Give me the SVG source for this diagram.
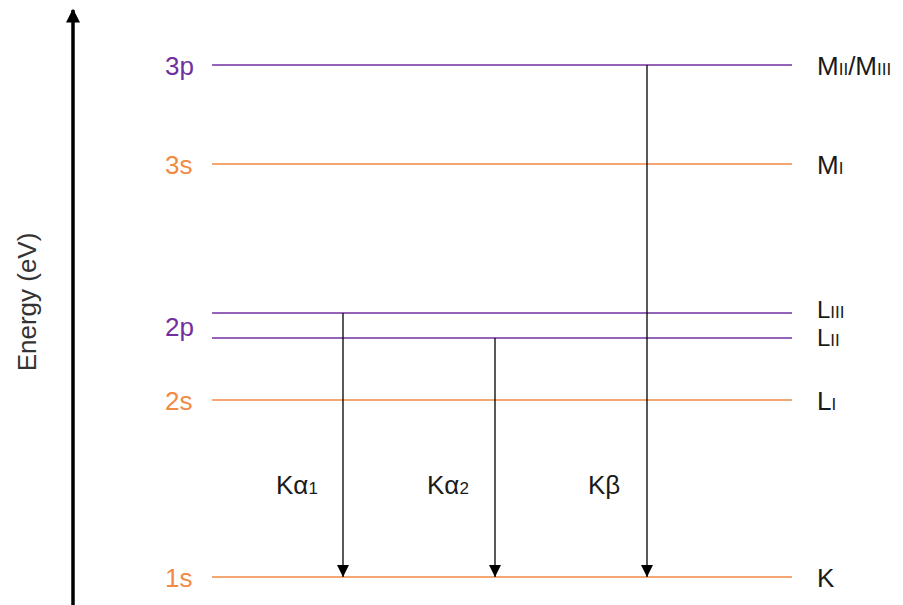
<svg xmlns="http://www.w3.org/2000/svg" width="903" height="605" viewBox="0 0 903 605">
<style>
text{font-family:"Liberation Sans",Arial,sans-serif;font-size:26px}
.p{fill:#7030A0}.o{fill:#F08A45}
.lp{stroke:#7030A0;stroke-width:1.5}.lo{stroke:#F08A45;stroke-width:1.5}
.r{fill:#1a1a1a}
.s{font-size:17px}
.sm{font-size:24px}
.ar{stroke:#000;stroke-width:1.3;fill:none}
</style>
<defs>
<marker id="ah" viewBox="0 0 10 10" refX="10" refY="5" markerWidth="12" markerHeight="12" markerUnits="userSpaceOnUse" orient="auto"><path d="M0,0L10,5L0,10z" fill="#000"/></marker>
<marker id="ah2" viewBox="0 0 10 10" refX="9" refY="5" markerWidth="4" markerHeight="4" orient="auto"><path d="M0,0L10,5L0,10z" fill="#000"/></marker>
</defs>
<g id="axis">
<line x1="73" y1="605" x2="73" y2="10" stroke="#000" stroke-width="3.5" marker-end="url(#ah2)"/>
<text transform="translate(36,302) rotate(-90)" text-anchor="middle" fill="#333" font-size="30">Energy (eV)</text>
</g>
<g id="level-3p"><line class="lp" x1="212" y1="65" x2="792" y2="65"/><text class="p" x="165" y="75">3p</text><text class="r" x="817" y="75">M<tspan class="s">II</tspan>/M<tspan class="s">III</tspan></text></g>
<g id="level-3s"><line class="lo" x1="212" y1="164" x2="792" y2="164"/><text class="o" x="165" y="174">3s</text><text class="r" x="817" y="174">M<tspan class="s">I</tspan></text></g>
<g id="level-2p3"><line class="lp" x1="212" y1="313" x2="792" y2="313"/><text class="r sm" x="817" y="318">L<tspan class="s">III</tspan></text></g>
<g id="level-2p1"><line class="lp" x1="212" y1="338" x2="792" y2="338"/><text class="p" x="165" y="336">2p</text><text class="r sm" x="817" y="346">L<tspan class="s">II</tspan></text></g>
<g id="level-2s"><line class="lo" x1="212" y1="400" x2="792" y2="400"/><text class="o" x="165" y="410">2s</text><text class="r" x="817" y="410">L<tspan class="s">I</tspan></text></g>
<g id="level-1s"><line class="lo" x1="212" y1="577" x2="792" y2="577"/><text class="o" x="165" y="587">1s</text><text class="r" x="817" y="587">K</text></g>
<g id="connectors">
<line class="ar" x1="343" y1="313" x2="343" y2="577" marker-end="url(#ah)"/>
<line class="ar" x1="495" y1="338" x2="495" y2="577" marker-end="url(#ah)"/>
<line class="ar" x1="647" y1="65" x2="647" y2="577" marker-end="url(#ah)"/>
<text class="r" x="276" y="494">Kα<tspan class="s">1</tspan></text>
<text class="r" x="427" y="494">Kα<tspan class="s">2</tspan></text>
<text class="r" x="588" y="494">Kβ</text>
</g>
</svg>
